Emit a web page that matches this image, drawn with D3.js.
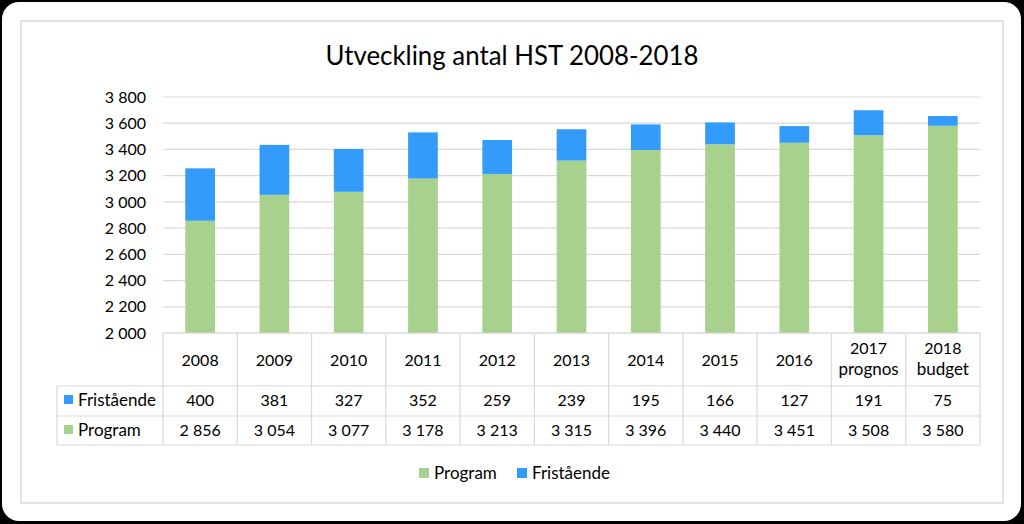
<!DOCTYPE html>
<html>
<head>
<meta charset="utf-8">
<script src="https://cdn.jsdelivr.net/npm/d3@7"></script>
<style>
  body { margin: 0; background: #000; }
  text { font-family: Lato, "Open Sans", sans-serif; fill: #000; }
</style>
</head>
<body>
<div id="chart"></div>
<script>
// data
const categories = ["2008", "2009", "2010", "2011", "2012", "2013", "2014", "2015", "2016", "2017\nprognos", "2018\nbudget"];
const program = [2856, 3054, 3077, 3178, 3213, 3315, 3396, 3440, 3451, 3508, 3580];
const fristaende = [400, 381, 327, 352, 259, 239, 195, 166, 127, 191, 75];
const yTicks = [2000, 2200, 2400, 2600, 2800, 3000, 3200, 3400, 3600, 3800];
const seriesNames = ["Program", "Fristående"];
const colors = { "Program": "#a9d18e", "Fristående": "#339cfa" };

const locale = d3.formatLocale({ decimal: ",", thousands: " ", grouping: [3], currency: ["", ""] });
const fmt = locale.format(",d");

const W = 1024, H = 524;
const svg = d3.select("#chart").append("svg")
  .attr("width", W)
  .attr("height", H);

svg.append("rect").attr("width", W).attr("height", H).attr("fill", "#000");
svg.append("rect")
  .attr("x", 2).attr("y", 2)
  .attr("width", 1019).attr("height", 519)
  .attr("rx", 17)
  .attr("fill", "#fff");
// inner chart border
svg.append("rect")
  .attr("x", 21).attr("y", 21)
  .attr("width", 982).attr("height", 482)
  .attr("fill", "none")
  .attr("stroke", "#d9d9d9")
  .attr("stroke-width", 1.5);

svg.append("text")
  .attr("x", 512).attr("y", 65)
  .attr("text-anchor", "middle")
  .attr("font-size", 26)
  .attr("textLength", 373)
  .attr("lengthAdjust", "spacingAndGlyphs")
  .text("Utveckling antal HST 2008-2018");

const plotLeft = 163, plotRight = 980, plotTop = 97, plotBottom = 333;

const x = d3.scaleBand()
  .domain(categories)
  .range([plotLeft, plotRight])
  .paddingInner(0.6)
  .paddingOuter(0.3);

const y = d3.scaleLinear()
  .domain([2000, 3800])
  .range([plotBottom, plotTop]);

// gridlines
svg.append("g").selectAll("line")
  .data(yTicks)
  .join("line")
  .attr("x1", plotLeft).attr("x2", plotRight)
  .attr("y1", d => y(d)).attr("y2", d => y(d))
  .attr("stroke", "#d9d9d9")
  .attr("stroke-width", 1.2);

// y axis labels
const yAxis = d3.axisLeft(y).tickValues(yTicks).tickFormat(fmt).tickSize(0).tickPadding(17);
const yg = svg.append("g").attr("transform", `translate(${plotLeft},0)`).call(yAxis);
yg.select(".domain").remove();
yg.selectAll("text").attr("font-size", 16).attr("font-family", "Lato, sans-serif").attr("fill", "#000");

// stacked bars
const rows = categories.map((c, i) => ({ cat: c, "Program": program[i], "Fristående": fristaende[i] }));
const stack = d3.stack().keys(seriesNames)(rows);

svg.append("g").selectAll("g")
  .data(stack)
  .join("g")
  .attr("fill", d => colors[d.key])
  .selectAll("rect")
  .data(d => d)
  .join("rect")
  .attr("x", d => x(d.data.cat))
  .attr("width", x.bandwidth())
  .attr("y", d => y(Math.max(d[1], 2000)))
  .attr("height", d => y(Math.max(d[0], 2000)) - y(Math.max(d[1], 2000)));

// data table
const step = x.step();
const colEdges = categories.map(c => x(c) - (step - x.bandwidth()) / 2);
const labelLeft = 57;
const rowTop = [333, 386, 416, 445];
const grid = "#d9d9d9";
const tbl = svg.append("g");

// horizontal lines
tbl.append("line").attr("x1", plotLeft).attr("x2", plotRight).attr("y1", plotBottom).attr("y2", plotBottom).attr("stroke", grid).attr("stroke-width", 1.2);
[rowTop[1], rowTop[2], rowTop[3]].forEach(yy => {
  tbl.append("line").attr("x1", labelLeft).attr("x2", plotRight).attr("y1", yy).attr("y2", yy).attr("stroke", grid).attr("stroke-width", 1.2);
});
// vertical lines
colEdges.concat([plotRight]).forEach(xx => {
  tbl.append("line").attr("x1", xx).attr("x2", xx).attr("y1", rowTop[0]).attr("y2", rowTop[3]).attr("stroke", grid).attr("stroke-width", 1.2);
});
tbl.append("line").attr("x1", labelLeft).attr("x2", labelLeft).attr("y1", rowTop[1]).attr("y2", rowTop[3]).attr("stroke", grid).attr("stroke-width", 1.2);

// header labels
categories.forEach(c => {
  const lines = c.split("\n");
  const cx = x(c) + x.bandwidth() / 2;
  const t = tbl.append("text").attr("text-anchor", "middle").attr("font-size", 16);
  const y0 = lines.length === 1 ? 366 : 354;
  lines.forEach((ln, j) => {
    t.append("tspan").attr("x", cx).attr("y", y0 + j * 21)
      .attr("font-size", /\d/.test(ln) ? 16 : 17)
      .text(ln);
  });
});

// table rows (Fristående first, then Program)
const tableRows = [
  { name: "Fristående", values: fristaende, base: 406 },
  { name: "Program", values: program, base: 436 }
];
tableRows.forEach(r => {
  tbl.append("rect")
    .attr("x", 64).attr("y", r.base - 11)
    .attr("width", 9).attr("height", 9)
    .attr("fill", colors[r.name]);
  tbl.append("text")
    .attr("x", 78).attr("y", r.base)
    .attr("font-size", 17)
    .text(r.name);
  tbl.selectAll(null)
    .data(r.values)
    .join("text")
    .attr("x", (d, i) => x(categories[i]) + x.bandwidth() / 2)
    .attr("y", r.base)
    .attr("text-anchor", "middle")
    .attr("font-size", 16)
    .text(d => fmt(d));
});

// legend
const legend = svg.append("g");
const legendItems = [
  { name: "Program", x: 419 },
  { name: "Fristående", x: 517 }
];
legendItems.forEach(l => {
  legend.append("rect")
    .attr("x", l.x).attr("y", 468)
    .attr("width", 10).attr("height", 10)
    .attr("fill", colors[l.name]);
  legend.append("text")
    .attr("x", l.x + 15).attr("y", 479)
    .attr("font-size", 17)
    .text(l.name);
});
</script>
</body>
</html>
